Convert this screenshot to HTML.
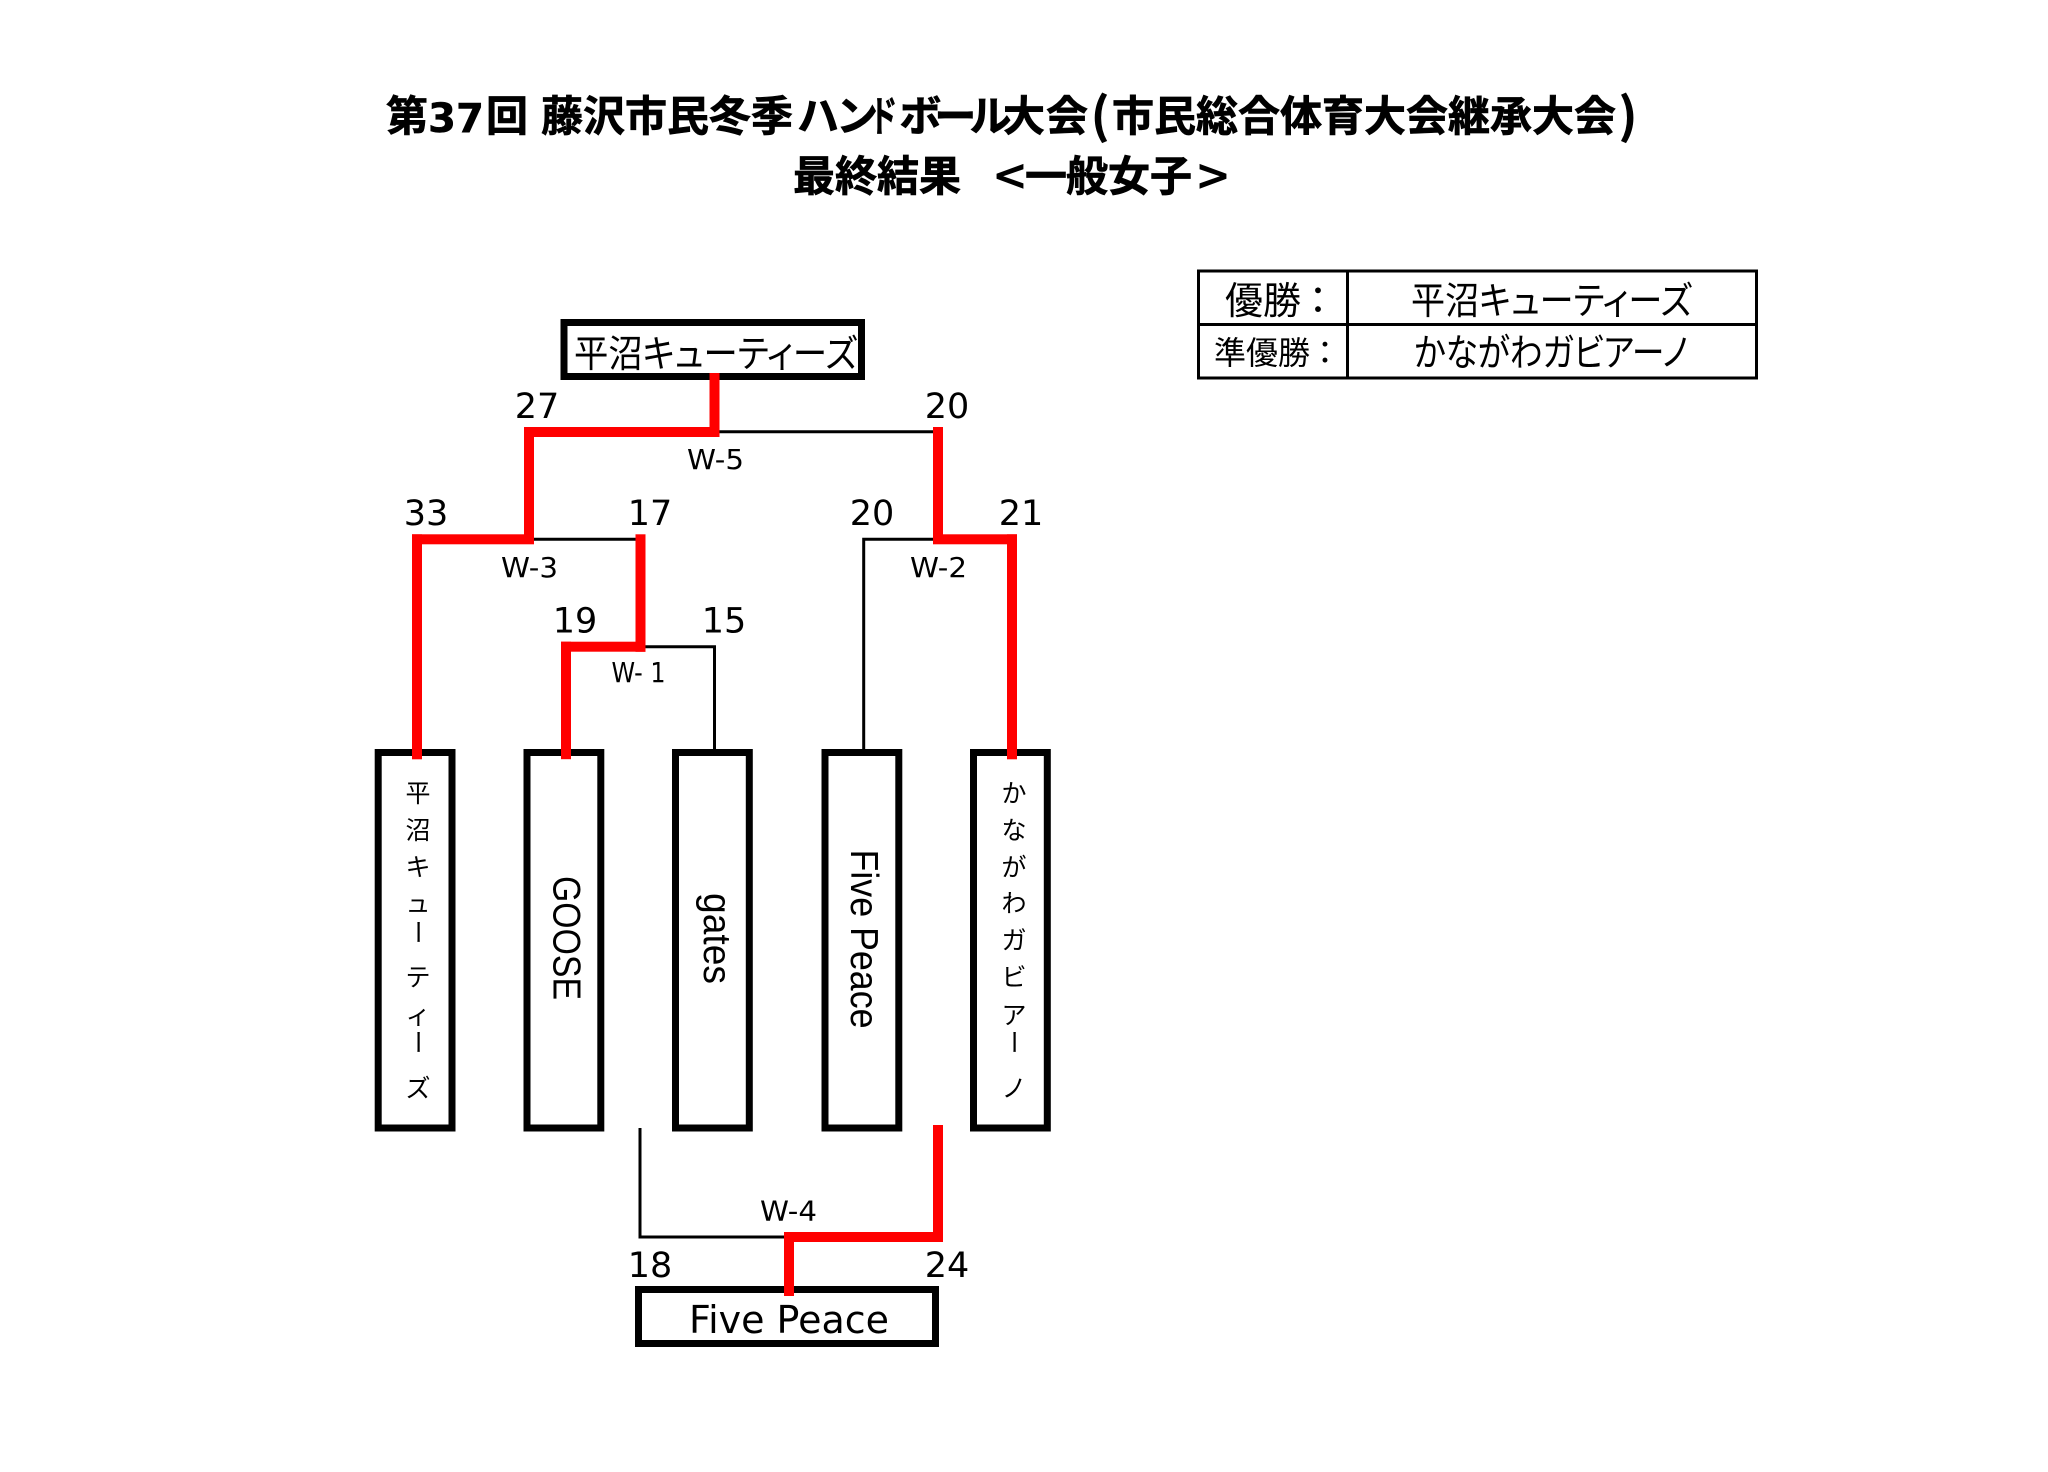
<!DOCTYPE html>
<html lang="ja">
<head>
<meta charset="utf-8">
<title>第37回 藤沢市民冬季ハンドボール大会</title>
<style>
html,body{margin:0;padding:0;background:#fff;}
svg{display:block;}
.jp{font-family:"Liberation Sans","Noto Sans CJK JP",sans-serif;}
.jb{font-family:"Noto Sans CJK JP",sans-serif;font-weight:700;font-size:42px;stroke:#000;stroke-width:.7px;}
.jk{font-family:"Noto Sans CJK JP",sans-serif;font-weight:700;font-size:42px;stroke:#000;stroke-width:.7px;font-feature-settings:"palt";}
.plain{font-family:"Noto Sans CJK JP",sans-serif;}
.pal{font-family:"Noto Sans CJK JP",sans-serif;font-feature-settings:"palt";}
.d{font-family:"DejaVu Sans",sans-serif;}
.l{font-family:"Liberation Sans",sans-serif;}
</style>
</head>
<body>
<svg width="2048" height="1472" viewBox="0 0 2048 1472" xmlns="http://www.w3.org/2000/svg">
<rect width="2048" height="1472" fill="#fff"/>

<!-- Title -->
<g fill="#000">
<text class="jb" x="386" y="131">第</text>
<text class="d" font-weight="700" font-size="40" x="428" y="132" textLength="56" lengthAdjust="spacingAndGlyphs" stroke="#000" stroke-width=".5">37</text>
<text class="jb" x="486" y="131">回</text>
<text class="jb" y="131" x="541 583 625 667 709 751">藤沢市民冬季</text>
<text class="jk" y="131" x="798 838">ハン</text>
<text class="jk" y="131" x="872" textLength="24" lengthAdjust="spacingAndGlyphs">ド</text>
<text class="jk" y="131" x="899 935 970">ボール</text>
<text class="jb" y="131" x="1003 1046">大会</text>
<text class="jb" font-size="48" style="font-size:48px" x="1091" y="133">(</text>
<text class="jb" y="131" x="1112 1154 1196 1238 1280 1322 1364 1406 1448 1490 1532 1574">市民総合体育大会継承大会</text>
<text class="jb" style="font-size:48px" x="1619" y="133">)</text>

<text class="jb" y="191" x="793 835 877 919">最終結果</text>
<text class="d" font-weight="700" font-size="44" x="992" y="190" textLength="36" lengthAdjust="spacingAndGlyphs">&lt;</text>
<text class="jb" y="191" x="1025 1066 1108 1150">一般女子</text>
<text class="d" font-weight="700" font-size="44" x="1195" y="190" textLength="36" lengthAdjust="spacingAndGlyphs">&gt;</text>
</g>

<!-- Result table -->
<g fill="none" stroke="#000" stroke-width="3">
<rect x="1198.5" y="271" width="558" height="107"/>
<line x1="1198" y1="324.5" x2="1757" y2="324.5"/>
<line x1="1347.5" y1="271" x2="1347.5" y2="378"/>
</g>
<g fill="#000">
<text class="pal" font-size="38" y="314" x="1225 1263">優勝</text>
<text class="plain" font-size="38" y="314" x="1299">：</text>
<text class="pal" font-size="38" y="314" x="1411" textLength="281" lengthAdjust="spacingAndGlyphs">平沼キューティーズ</text>
<text class="pal" font-size="32" y="364" x="1214 1246 1278">準優勝</text>
<text class="plain" font-size="32" y="364" x="1309">：</text>
<text class="pal" font-size="38" y="366" x="1414" textLength="274" lengthAdjust="spacingAndGlyphs">かながわガビアーノ</text>
</g>

<!-- Winner boxes -->
<g fill="#fff" stroke="#000" stroke-width="7">
<rect x="564" y="322.5" width="297.5" height="54"/>
<rect x="638.5" y="1289.5" width="297" height="54"/>
<rect x="378.2" y="752.5" width="73.8" height="375.5"/>
<rect x="527" y="752.5" width="73.8" height="375.5"/>
<rect x="675.5" y="752.5" width="73.8" height="375.5"/>
<rect x="825" y="752.5" width="73.8" height="375.5"/>
<rect x="973.5" y="752.5" width="73.8" height="375.5"/>
</g>

<g fill="#000">
<text class="pal" font-size="38" y="367" x="574" textLength="283" lengthAdjust="spacingAndGlyphs">平沼キューティーズ</text>
<text class="d" font-size="38" y="1333" x="689" textLength="200" lengthAdjust="spacingAndGlyphs">Five Peace</text>
</g>

<!-- Vertical names -->
<g fill="#000" class="jp" font-size="25" text-anchor="middle">
<text x="418" y="802">平</text>
<text x="418" y="839">沼</text>
<text x="418" y="876">キ</text>
<text x="418" y="912">ュ</text>
<text transform="rotate(90 418 932)" x="418" y="941">ー</text>
<text x="418" y="986">テ</text>
<text x="418" y="1024">ィ</text>
<text transform="rotate(90 418 1042)" x="418" y="1051">ー</text>
<text x="418" y="1097">ズ</text>

<text x="1014" y="802">か</text>
<text x="1014" y="839">な</text>
<text x="1014" y="876">が</text>
<text x="1014" y="912">わ</text>
<text x="1014" y="949">ガ</text>
<text x="1014" y="986">ビ</text>
<text x="1014" y="1024">ア</text>
<text transform="rotate(90 1014 1042)" x="1014" y="1051">ー</text>
<text x="1014" y="1097">ノ</text>
</g>
<g fill="#000" class="l" font-size="39">
<text transform="translate(553.5 876) rotate(90)" textLength="124" lengthAdjust="spacingAndGlyphs">GOOSE</text>
<text transform="translate(704 893) rotate(90)" textLength="91" lengthAdjust="spacingAndGlyphs">gates</text>
<text transform="translate(851 849.5) rotate(90)" textLength="179" lengthAdjust="spacingAndGlyphs">Five Peace</text>
</g>

<!-- Black connectors -->
<g fill="none" stroke="#000" stroke-width="3">
<polyline points="719,431.7 934,431.7"/>
<polyline points="533,539.3 636,539.3"/>
<polyline points="933,539.3 863.7,539.3 863.7,749"/>
<polyline points="645,646.7 714.5,646.7 714.5,749"/>
<polyline points="640,1128 640,1237 785,1237"/>
</g>

<!-- Red connectors -->
<g fill="#f00">
<rect x="709.5" y="373" width="10" height="64"/>
<rect x="524" y="427" width="195.5" height="10"/>
<rect x="524" y="427" width="10" height="117"/>
<rect x="412" y="534.3" width="122" height="10"/>
<rect x="412" y="534.3" width="10" height="225"/>
<rect x="635.5" y="534.3" width="10" height="117.5"/>
<rect x="561" y="641.7" width="84.5" height="10"/>
<rect x="561" y="641.7" width="10" height="117.5"/>
<rect x="933" y="427" width="10" height="117"/>
<rect x="933" y="534.3" width="84" height="10"/>
<rect x="1007" y="534.3" width="10" height="225"/>
<rect x="933" y="1125" width="10" height="117"/>
<rect x="784" y="1232" width="159" height="10"/>
<rect x="784" y="1232" width="10" height="64"/>
</g>

<!-- Scores -->
<g fill="#000" class="d" font-size="35" text-anchor="middle">
<text x="537" y="418">27</text>
<text x="947" y="418">20</text>
<text x="426" y="525">33</text>
<text x="650" y="525">17</text>
<text x="872" y="525">20</text>
<text x="1021" y="525">21</text>
<text x="575" y="632.5">19</text>
<text x="724" y="632.5">15</text>
<text x="650" y="1277">18</text>
<text x="947" y="1277">24</text>
</g>

<!-- Match labels -->
<g fill="#000" class="d" font-size="28">
<text x="687" y="469" textLength="57" lengthAdjust="spacingAndGlyphs">W-5</text>
<text x="501" y="577" textLength="57" lengthAdjust="spacingAndGlyphs">W-3</text>
<text x="910" y="577" textLength="57" lengthAdjust="spacingAndGlyphs">W-2</text>
<text x="611.5" y="682" textLength="54" lengthAdjust="spacingAndGlyphs">W- 1</text>
<text x="760" y="1220.5" textLength="57" lengthAdjust="spacingAndGlyphs">W-4</text>
</g>
</svg>
</body>
</html>
